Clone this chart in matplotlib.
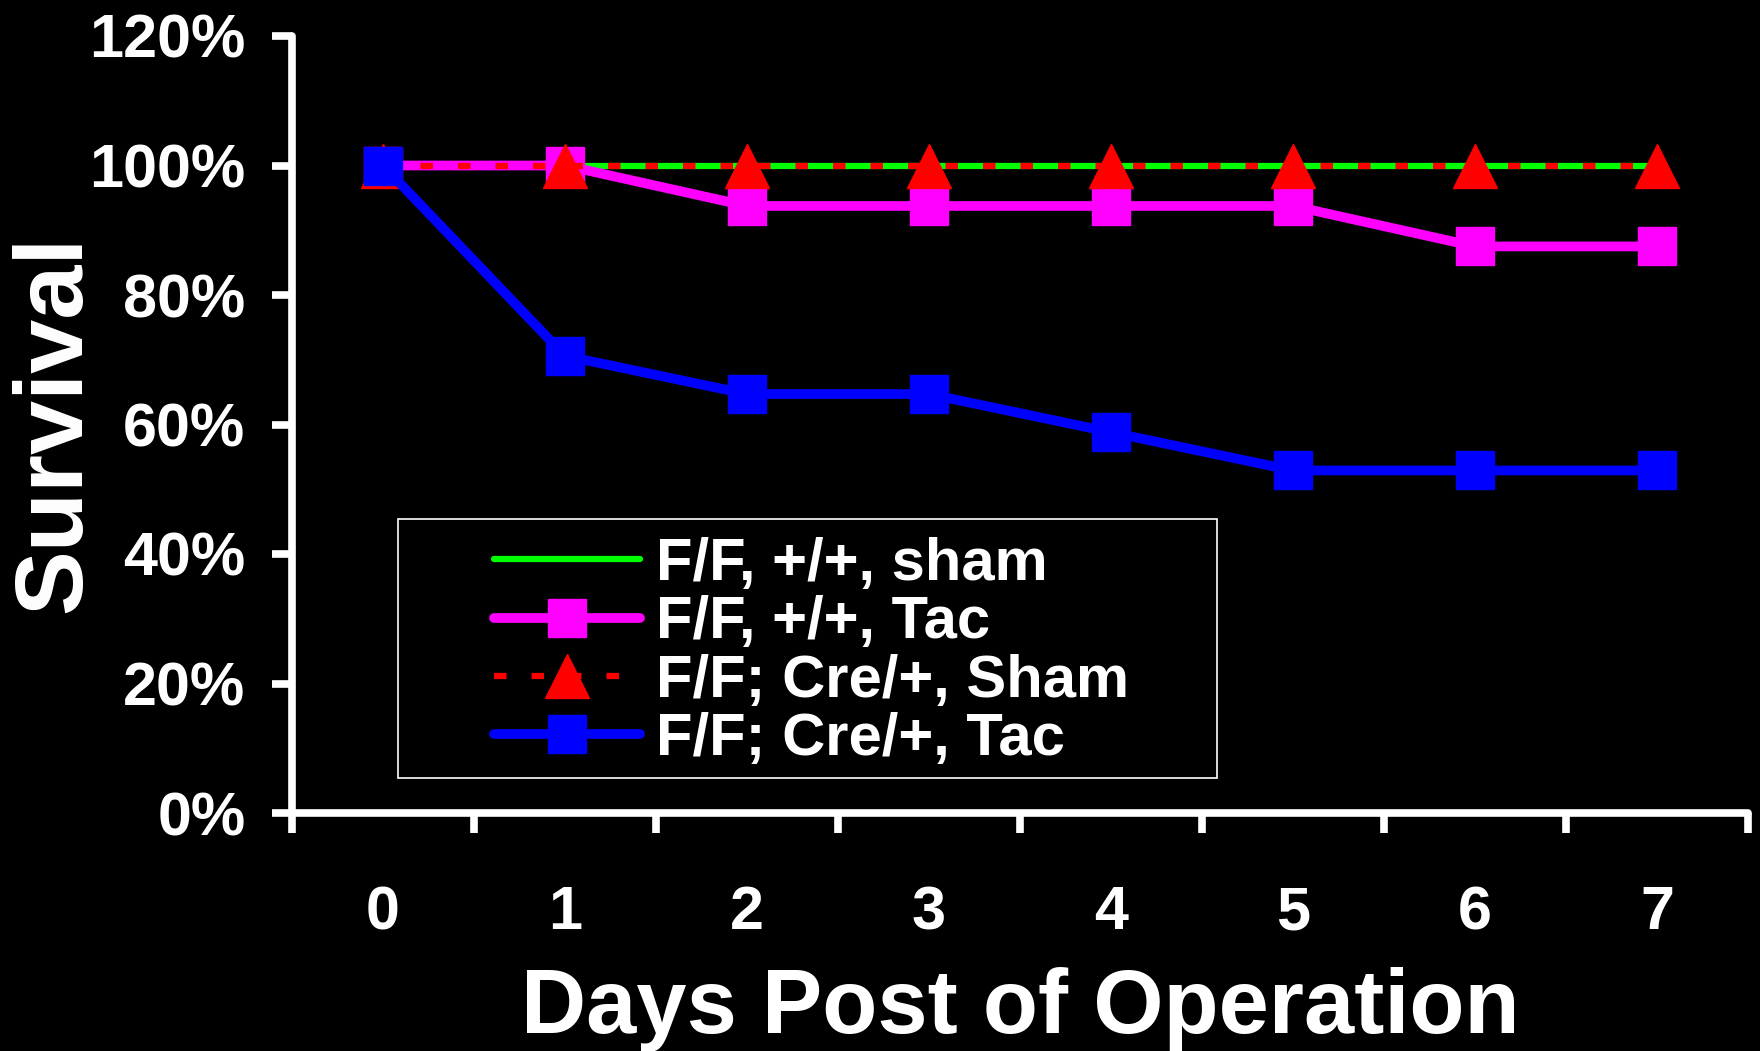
import matplotlib.pyplot as plt
from matplotlib.patches import Rectangle

# Datos de supervivencia (%) por día después de la operación
days = [0, 1, 2, 3, 4, 5, 6, 7]
ff_wt_sham = [100, 100, 100, 100, 100, 100, 100, 100]
ff_wt_tac = [100, 100, 93.75, 93.75, 93.75, 93.75, 87.5, 87.5]
ff_cre_sham = [100, 100, 100, 100, 100, 100, 100, 100]
ff_cre_tac = [100, 70.6, 64.7, 64.7, 58.8, 52.9, 52.9, 52.9]
labels = ["F/F, +/+, sham", "F/F, +/+, Tac", "F/F; Cre/+, Sham", "F/F; Cre/+, Tac"]
y_ticks = [0, 20, 40, 60, 80, 100, 120]

W, H = 1760, 1051
plt.rcParams['font.family'] = ['Liberation Sans', 'DejaVu Sans']
plt.rcParams['font.weight'] = 'bold'

fig = plt.figure(figsize=(W / 100, H / 100), dpi=100, facecolor="black")
ax = fig.add_axes([292 / W, 1 - 813 / H, (1748 - 292) / W, (813 - 36) / H])
ax.set_facecolor("black")

l1, = ax.plot(days, ff_wt_sham, color="#00FF00", lw=4.5, solid_capstyle="round", zorder=2)
l2, = ax.plot(days, ff_wt_tac, color="#FF00FF", lw=7, marker="s", markersize=27,
              solid_capstyle="round", zorder=3)
l3, = ax.plot(days, ff_cre_sham, color="#FF0000", lw=4.5, ls=(0, (2, 4)), marker="^",
              markersize=31, zorder=4)
l4, = ax.plot(days, ff_cre_tac, color="#0000FF", lw=7, marker="s", markersize=27,
              solid_capstyle="round", zorder=5)

ax.set_xlim(-0.5, 7.5)
ax.set_ylim(0, 120)

# Ejes estilo Excel: ticks en los límites de categoría, etiquetas en el centro
ax.set_xticks([d - 0.5 for d in days] + [7.5])
ax.set_xticklabels([])
ax.set_xticks(days, minor=True)
ax.set_xticklabels([str(d) for d in days], minor=True)
ax.tick_params(axis="x", which="major", direction="out", length=14.5, width=5.5, color="white")
ax.tick_params(axis="x", which="minor", length=0, pad=52, labelsize=44, labelcolor="white")

ax.set_yticks(y_ticks)
ax.set_yticklabels([f"{v}%" for v in y_ticks])
ax.tick_params(axis="y", direction="out", length=14.5, width=5.5, color="white",
               pad=19, labelsize=44, labelcolor="white")
for t in ax.get_xticklabels(minor=True) + ax.get_yticklabels():
    t.set_fontweight("bold")

for side in ["top", "right"]:
    ax.spines[side].set_visible(False)
for side in ["left", "bottom"]:
    ax.spines[side].set_color("white")
    ax.spines[side].set_linewidth(5.5)
    ax.spines[side].set_capstyle("round")

fig.text(1020 / W, 1 - 1033 / H, "Days Post of Operation", color="white", fontsize=65,
         fontweight="bold", ha="center", va="baseline")
fig.text(80 / W, 1 - 424 / H, "Survival", color="white", fontsize=70, fontweight="bold",
         rotation=90, rotation_mode="anchor", ha="center", va="baseline")

# Caja de la leyenda
box = Rectangle((398 / W, 1 - 778 / H), (1217 - 398) / W, (778 - 518.6) / H,
                transform=fig.transFigure, facecolor="black", edgecolor="white",
                lw=1.2, zorder=6, clip_on=False)
ax.add_artist(box)
leg = ax.legend([l1, l2, l3, l4], labels, loc="upper left",
                bbox_to_anchor=(494 / W, 1 - 537 / H), bbox_transform=fig.transFigure,
                frameon=False, handlelength=2.44, handletextpad=0.28,
                labelspacing=0.057, borderpad=0, borderaxespad=0,
                prop={"weight": "bold", "size": 43})
leg.set_zorder(7)
for t in leg.get_texts():
    t.set_color("white")

fig.savefig("out.png", dpi=100, facecolor="black")
